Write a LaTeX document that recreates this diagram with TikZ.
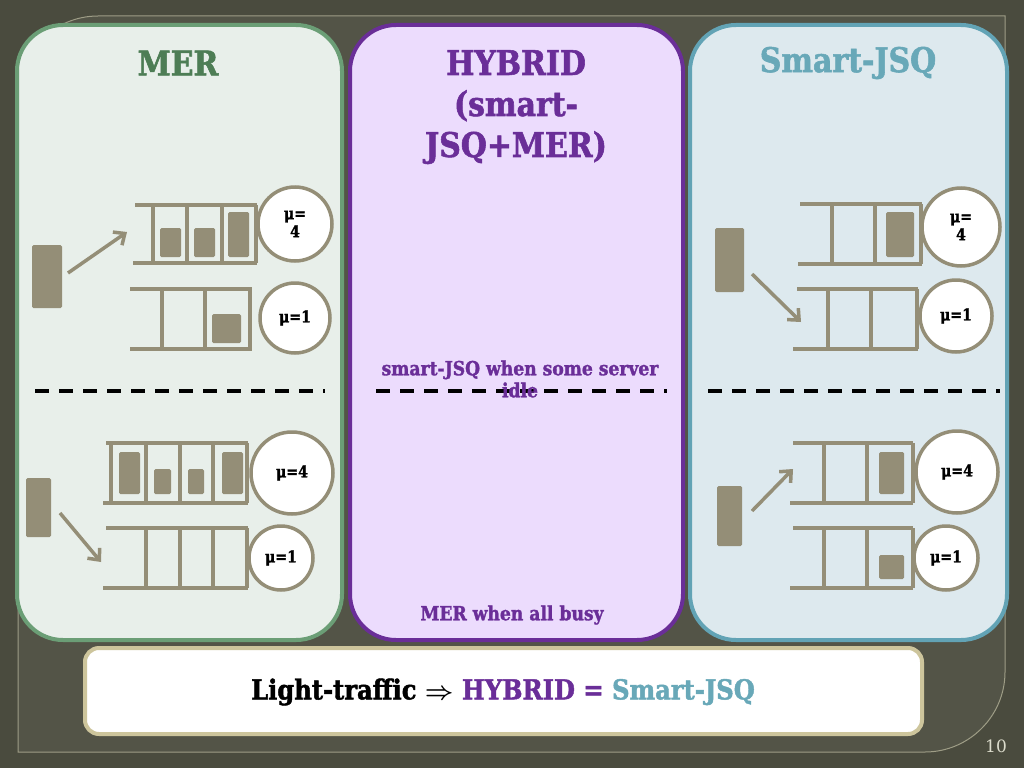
\documentclass[tikz,border=0pt]{standalone}
\usepackage{fontspec}
\setmainfont{DejaVu Serif}[BoldFeatures={FakeBold=1.6,FakeStretch=0.88}]
\usetikzlibrary{arrows.meta}
\definecolor{bgout}{HTML}{4A4B3E}
\definecolor{bgin}{HTML}{535447}
\definecolor{framec}{HTML}{9E9D86}
\definecolor{merb}{HTML}{6B9E76}
\definecolor{merf}{HTML}{E8EFEA}
\definecolor{mert}{HTML}{4D7D55}
\definecolor{hybb}{HTML}{6A2E98}
\definecolor{hybf}{HTML}{ECDCFD}
\definecolor{jsqb}{HTML}{62A3B5}
\definecolor{jsqf}{HTML}{DDE9EE}
\definecolor{jsqt}{HTML}{68A8B8}
\definecolor{boxb}{HTML}{CDC59C}
\definecolor{qc}{HTML}{948E77}
\definecolor{pnum}{HTML}{DCDCCC}
\tikzset{
  panel/.style={draw, line width=4pt, rounded corners=46pt, inner sep=0pt},
  title/.style={font=\bfseries\fontsize{34}{41}\selectfont, align=center, inner sep=0pt},
  note/.style={font=\bfseries\fontsize{19.5}{22}\selectfont, align=center, inner sep=0pt, text=hybb},
  qline/.style={draw=qc, line width=3.5pt},
  job/.style={fill=qc, rounded corners=1.5pt},
  server/.style={circle, draw=qc, line width=3.5pt, fill=white, inner sep=0pt, align=center,
     font=\bfseries\fontsize{16}{18}\selectfont},
  flow/.style={draw=qc, line width=3.5pt, -{Straight Barb[length=9pt,width=16pt]}},
  divider/.style={draw=black, line width=3.5pt, dash pattern=on 14pt off 10pt}
}
\begin{document}
\begin{tikzpicture}[x=1pt,y=-1pt]
\useasboundingbox (0,0) rectangle (1024,768);
\fill[bgout] (0,0) rectangle (1024,768);
% frame
\path[fill=bgin, draw=framec, line width=1pt]
  (18,752) -- (18,96) .. controls (18,52) and (54,16) .. (98,16) -- (1005,16)
  -- (1005,672) .. controls (1005,716) and (969,752) .. (925,752) -- cycle;

% panels
\node[panel, draw=merb, fill=merf, minimum width=325pt, minimum height=615pt] (mer) at (179.5,332.5) {};
\node[panel, draw=hybb, fill=hybf, minimum width=333pt, minimum height=615pt] (hyb) at (516.5,332.5) {};
\node[panel, draw=jsqb, fill=jsqf, minimum width=317pt, minimum height=615pt] (jsq) at (848.5,332.5) {};

% titles
\node[title, text=mert] (tmer) at (178,63) {MER};
\node[title, text=hybb, anchor=north] (thyb) at (516,50) {HYBRID\\(smart-\\JSQ+MER)};
\node[title, text=jsqt] (tjsq) at (848,63) {Smart-JSQ};

% dashed separators
\coordinate (d1a) at (35,391);  \coordinate (d1b) at (325,391);
\coordinate (d2a) at (376,391); \coordinate (d2b) at (667,391);
\coordinate (d3a) at (708,391); \coordinate (d3b) at (1000,391);
\draw[divider] (d1a) -- (d1b);
\draw[divider] (d2a) -- (d2b);
\draw[divider] (d3a) -- (d3b);

% hybrid notes
\node[note] (n1) at (520,379) {smart-JSQ when some server\\idle};
\node[note] (n2) at (512,615) {MER when all busy};

% ================= MER top =================
\draw[qline] (135,205) -- (257,205);
\draw[qline] (133,263) -- (257,263);
\foreach \x in {153,187,222,256} \draw[qline] (\x,205) -- (\x,263);
\fill[job] (160,228) rectangle (181,257);
\fill[job] (194,228) rectangle (215,257);
\fill[job] (228,212) rectangle (249,257);
\node[server, minimum size=74pt] (m1s1) at (295,224) {μ=\\4};
\draw[qline] (130,289) -- (252,289);
\draw[qline] (130,349) -- (252,349);
\foreach \x in {162,205,250} \draw[qline] (\x,289) -- (\x,349);
\fill[job] (212,314) rectangle (241,343);
\node[server, minimum size=70pt] (m1s2) at (295,318) {μ=1};
\fill[job] (32,245) rectangle (62,308);
\coordinate (m1a) at (68,273); \coordinate (m1b) at (127,232);
\draw[flow] (m1a) -- (m1b);

% ================= MER bottom =================
\draw[qline] (106,443) -- (248,443);
\draw[qline] (103,503) -- (248,503);
\foreach \x in {111,146,180,213,247} \draw[qline] (\x,443) -- (\x,503);
\fill[job] (119,452) rectangle (140,494);
\fill[job] (154,469) rectangle (171,494);
\fill[job] (188,469) rectangle (204,494);
\fill[job] (222,452) rectangle (243,494);
\node[server, minimum size=82pt] (m2s1) at (292,473) {μ=4};
\draw[qline] (106,528) -- (248,528);
\draw[qline] (103,588) -- (248,588);
\foreach \x in {146,180,213,247} \draw[qline] (\x,528) -- (\x,588);
\node[server, minimum size=64pt] (m2s2) at (281,558) {μ=1};
\fill[job] (26,478) rectangle (51,537);
\coordinate (m2a) at (60,513); \coordinate (m2b) at (101,562);
\draw[flow] (m2a) -- (m2b);

% ================= JSQ top =================
\draw[qline] (800,204) -- (922,204);
\draw[qline] (798,264) -- (922,264);
\foreach \x in {832,875,921} \draw[qline] (\x,204) -- (\x,264);
\fill[job] (886,212) rectangle (914,257);
\node[server, minimum size=78pt] (j1s1) at (961,227) {μ=\\4};
\draw[qline] (797,289) -- (918,289);
\draw[qline] (793,349) -- (918,349);
\foreach \x in {828,871,917} \draw[qline] (\x,289) -- (\x,349);
\node[server, minimum size=72pt] (j1s2) at (956,316) {μ=1};
\fill[job] (715,228) rectangle (744,292);
\coordinate (j1a) at (752,274); \coordinate (j1b) at (801,322);
\draw[flow] (j1a) -- (j1b);

% ================= JSQ bottom =================
\draw[qline] (793,443) -- (913,443);
\draw[qline] (790,503) -- (913,503);
\foreach \x in {824,867,913} \draw[qline] (\x,443) -- (\x,503);
\fill[job] (879,452) rectangle (904,494);
\node[server, minimum size=82pt] (j2s1) at (957,472) {μ=4};
\draw[qline] (793,528) -- (913,528);
\draw[qline] (790,588) -- (913,588);
\foreach \x in {824,867,913} \draw[qline] (\x,528) -- (\x,588);
\fill[job] (879,555) rectangle (904,579);
\node[server, minimum size=64pt] (j2s2) at (946,558) {μ=1};
\fill[job] (717,486) rectangle (742,546);
\coordinate (j2a) at (752,511); \coordinate (j2b) at (793,469);
\draw[flow] (j2a) -- (j2b);

% bottom box
\node[draw=boxb, fill=white, line width=4pt, rounded corners=14pt, minimum width=837pt, minimum height=86pt, inner sep=0pt] (concl) at (503.5,691) {};
\node[font=\bfseries\fontsize{27.5}{30}\selectfont, inner sep=0pt] (concltext) at (503,692)
  {Light-traffic {\boldmath$\Rightarrow$} \textcolor{hybb}{HYBRID} \textcolor{hybb}{=} \textcolor{jsqt}{Smart-JSQ}};

% page number
\node[text=pnum, font=\fontsize{17}{20}\selectfont, inner sep=0pt] (pg) at (996,746) {10};
\end{tikzpicture}
\end{document}
